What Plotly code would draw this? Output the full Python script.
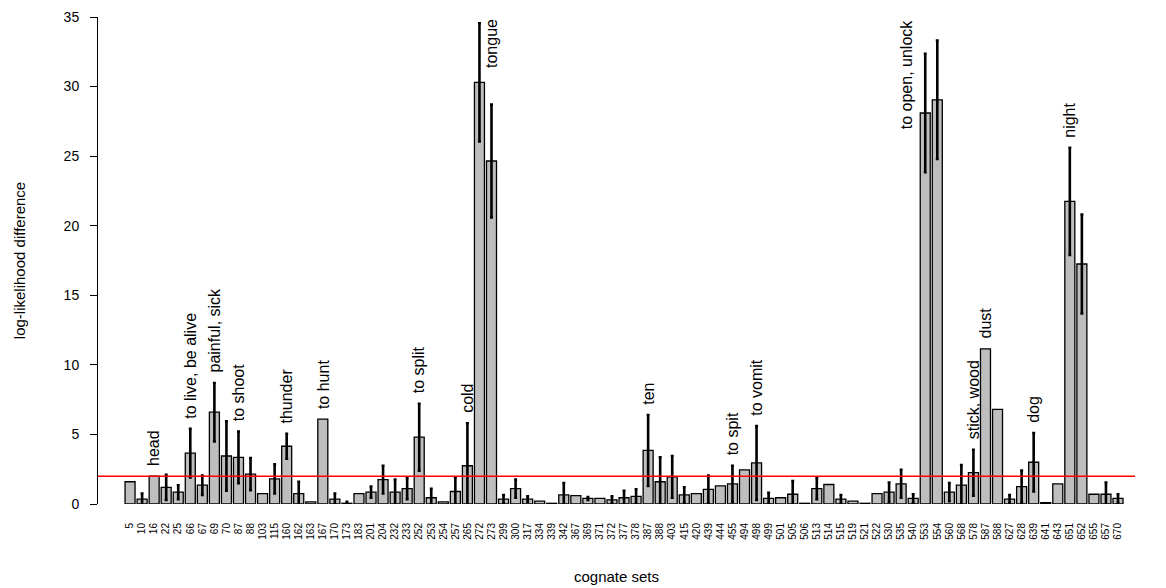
import plotly.graph_objects as go

# cognate set identifiers (x axis)
sets = ["5", "10", "16", "22", "25", "66", "67", "69", "70", "87",
        "88", "103", "115", "160", "162", "163", "167", "170", "173", "183",
        "201", "204", "232", "233", "252", "253", "254", "257", "265", "272",
        "273", "299", "300", "317", "334", "339", "342", "367", "369", "371",
        "372", "377", "378", "387", "388", "403", "415", "420", "439", "444",
        "455", "494", "498", "499", "501", "505", "506", "513", "514", "515",
        "519", "521", "522", "530", "535", "540", "553", "554", "560", "568",
        "578", "587", "588", "627", "628", "639", "641", "643", "651", "652",
        "655", "657", "670"]

# mean log-likelihood difference per cognate set
llr = [1.6, 0.35, 2.0, 1.2, 0.85, 3.65, 1.35, 6.6, 3.45, 3.35,
       2.15, 0.75, 1.8, 4.15, 0.75, 0.15, 6.1, 0.35, 0.05, 0.75,
       0.85, 1.75, 0.85, 1.1, 4.8, 0.45, 0.15, 0.9, 2.75, 30.3,
       24.65, 0.35, 1.1, 0.35, 0.2, 0.05, 0.65, 0.6, 0.4, 0.4,
       0.3, 0.45, 0.55, 3.85, 1.6, 1.95, 0.65, 0.75, 1.05, 1.3,
       1.45, 2.45, 2.95, 0.4, 0.45, 0.7, 0.05, 1.1, 1.4, 0.35,
       0.2, 0.05, 0.75, 0.85, 1.45, 0.4, 28.1, 29.05, 0.85, 1.35,
       2.25, 11.15, 6.8, 0.35, 1.25, 3.0, 0.1, 1.45, 21.75, 17.25,
       0.7, 0.7, 0.4]

# standard deviation (None = single estimate, no error bar)
sd = [None, 0.4, None, 0.9, 0.5, 1.75, 0.7, 2.1, 2.5, 1.85,
      1.15, None, 1.05, 0.9, 0.85, None, None, 0.4, 0.1, None,
      0.4, 1.0, 0.9, 0.75, 2.4, 0.65, None, 1.0, 3.05, 4.25,
      4.05, 0.3, 0.65, 0.2, None, None, 0.85, None, 0.1, None,
      0.25, 0.5, 0.5, 2.55, 1.75, 1.5, 0.55, None, 1.0, None,
      1.3, None, 2.65, 0.4, None, 0.95, None, 0.75, None, 0.3,
      None, None, None, 0.7, 1.0, 0.3, 4.25, 4.25, 0.65, 1.45,
      1.65, None, None, 0.3, 1.15, 2.1, None, None, 3.85, 3.55,
      None, 0.85, 0.3]

# meanings of the highlighted cognate sets
meanings = {
    "16": "head", "66": "to live, be alive", "69": "painful, sick",
    "87": "to shoot", "160": "thunder", "167": "to hunt",
    "252": "to split", "265": "cold", "273": "tongue", "387": "ten",
    "455": "to spit", "498": "to vomit", "553": "to open, unlock",
    "578": "stick, wood", "587": "dust", "639": "dog", "651": "night",
}

threshold = 2.0
y_max = 35

FONT = "Liberation Sans, Arial, sans-serif"
LABEL_SIZE = 16
PX_PER_UNIT = (588 - 17 - 84) / y_max

fig = go.Figure()
fig.add_trace(go.Bar(
    x=sets, y=llr,
    marker=dict(color="#bebebe", line=dict(color="black", width=1.3)),
    showlegend=False, hoverinfo="x+y",
))

# error bars only where a standard deviation exists
err_idx = [i for i, s in enumerate(sd) if s is not None]
fig.add_trace(go.Scatter(
    x=[sets[i] for i in err_idx], y=[llr[i] for i in err_idx],
    mode="markers", marker=dict(size=1, opacity=0),
    error_y=dict(type="data", array=[sd[i] for i in err_idx], visible=True,
                 color="black", thickness=2.6, width=1.5),
    showlegend=False, hoverinfo="skip",
))

# red reference line at the threshold
fig.add_shape(type="line", xref="paper", x0=0, x1=1, yref="y",
              y0=threshold, y1=threshold, line=dict(color="red", width=1.5))

# vertical meaning labels above each highlighted bar
for key, word in meanings.items():
    i = sets.index(key)
    top = llr[i] + (sd[i] or 0)
    base = top + 0.6
    length = len(word) * 0.5 * LABEL_SIZE / PX_PER_UNIT
    ann = dict(x=i, text=word, textangle=-90, showarrow=False,
               font=dict(family=FONT, size=LABEL_SIZE, color="black"),
               xanchor="center")
    if base + length > 32:
        # pin long labels to the top of the plotting region
        ann.update(y=y_max, yanchor="top")
        if top > y_max - length:
            ann.update(xshift=-19)
    else:
        ann.update(y=base, yanchor="bottom")
    fig.add_annotation(**ann)

fig.update_xaxes(
    type="category", range=[-2.66, 83.41],
    showline=False, showgrid=False, zeroline=False,
    ticks="", tickangle=-90, ticklabelstandoff=16,
    tickfont=dict(family=FONT, size=10, color="black"),
    title=dict(text="cognate sets", standoff=32,
               font=dict(family=FONT, size=15, color="black")),
)
fig.update_yaxes(
    range=[0, y_max], tickvals=list(range(0, 36, 5)),
    showline=True, linecolor="black", linewidth=1,
    ticks="outside", ticklen=7, tickwidth=1, tickcolor="black",
    ticklabelstandoff=8,
    showgrid=False, zeroline=False,
    tickfont=dict(family=FONT, size=14, color="black"),
    title=dict(text="log-likelihood difference", standoff=34,
               font=dict(family=FONT, size=15, color="black")),
)
fig.update_layout(
    width=1166, height=588,
    margin=dict(l=98, r=31, t=17, b=84, autoexpand=False),
    plot_bgcolor="white", paper_bgcolor="white",
    bargap=0.17,
    font=dict(family=FONT, color="black"),
)

fig.write_html("out.html")
